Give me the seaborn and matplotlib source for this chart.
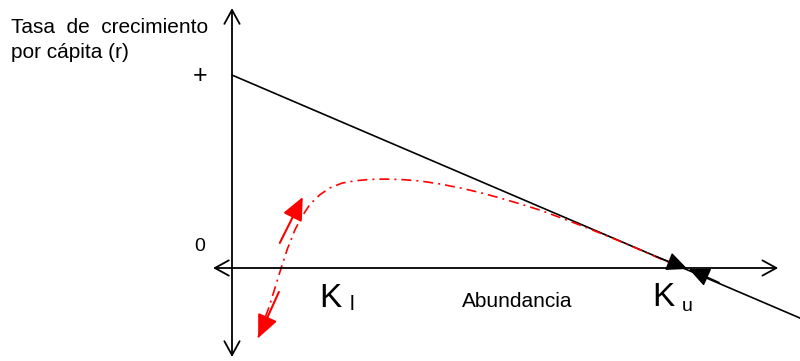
import numpy as np
import pandas as pd
import matplotlib
matplotlib.use("Agg")
import matplotlib.pyplot as plt
import seaborn as sns

# eje x: abundancia (K_u = 100), eje y: tasa r (+ = 1)
K_l = 10.9
K_u = 100
r_max = 1.0

# curva con efecto Allee (roja, punto-raya)
curva_x = [5.8, 7.0, 8.4, 9.7, 10.9, 12.3, 14.0, 15.6, 17.3, 19.5, 21.7, 24.4, 27.3,
           30.5, 33.9, 37.8, 41.7, 46.0, 50.6, 55.0, 59.4, 63.8, 68.3, 72.7, 77.2,
           81.6, 86.0, 90.5, 94.9, 100.0]
curva_r = [-0.36, -0.28, -0.19, -0.09, 0.0, 0.10, 0.20, 0.27, 0.33, 0.38, 0.415, 0.44,
           0.452, 0.459, 0.461, 0.458, 0.451, 0.436, 0.415, 0.391, 0.363, 0.333, 0.30,
           0.262, 0.222, 0.181, 0.139, 0.094, 0.049, 0.0]

# recta logistica
recta_x = [0, 126]
recta_r = [r_max * (1 - x / K_u) for x in recta_x]

sns.set_style("white")
plt.rcParams['font.family'] = ['Liberation Sans', 'DejaVu Sans']
plt.rcParams['text.color'] = 'black'

fig = plt.figure(figsize=(8, 3.61), dpi=100)
ax = fig.add_axes([0, 0, 1, 1])
ax.set_xlim(-51.44, 125.94)
ax.set_ylim(-0.482, 1.389)
ax.axis('off')

# ejes con flechas en ambos extremos
ax.annotate('', xy=(121.1, 0), xytext=(-4.2, 0),
            arrowprops=dict(arrowstyle='<->,head_length=1.0,head_width=0.55', color='black', lw=1.3,
                            shrinkA=0, shrinkB=0))
ax.annotate('', xy=(0, 1.347), xytext=(0, -0.461),
            arrowprops=dict(arrowstyle='<->,head_length=1.0,head_width=0.55', color='black', lw=1.3,
                            shrinkA=0, shrinkB=0))

df_recta = pd.DataFrame({'x': recta_x, 'r': recta_r})
sns.lineplot(data=df_recta, x='x', y='r', color='black', lw=1.2, ax=ax, sort=False)

df_curva = pd.DataFrame({'x': curva_x, 'r': curva_r})
sns.lineplot(data=df_curva, x='x', y='r', color='red', lw=1.2, ax=ax, sort=False,
             linestyle=(0, (6, 3, 1.2, 3)))

# flechas rojas cerca de K_l
flecha_roja = dict(arrowstyle='-|>,head_length=1.0,head_width=0.45', color='red', lw=1.5,
                   mutation_scale=14, shrinkA=0, shrinkB=0)
ax.annotate('', xy=(15.7, 0.368), xytext=(10.6, 0.13), arrowprops=flecha_roja)
ax.annotate('', xy=(5.8, -0.363), xytext=(10.4, -0.124), arrowprops=flecha_roja)

# puntas negras en K_u
punta = dict(arrowstyle='-|>,head_length=1.0,head_width=0.45', color='black', lw=1,
             mutation_scale=13, shrinkA=0, shrinkB=0)
ax.annotate('', xy=(K_u + 1.0, -0.005), xytext=(K_u - 6, 0.06), arrowprops=punta)
ax.annotate('', xy=(K_u + 1.3, -0.005), xytext=(K_u + 8, -0.075), arrowprops=punta)

# textos
ax.text(-48.9, 1.218, 'Tasa  de  crecimiento', fontsize=15, va='baseline', ha='left')
ax.text(-48.9, 1.088, 'por cápita (r)', fontsize=15, va='baseline', ha='left')
ax.text(-7.1, 0.995, '+', fontsize=18, ha='center', va='center')
ax.text(-7.2, 0.109, '0', fontsize=14, ha='center', va='center')
ax.text(19.3, -0.202, 'K', fontsize=24, ha='left', va='baseline')
ax.text(26.0, -0.218, 'l', fontsize=15, ha='left', va='baseline')
ax.text(51.0, -0.202, 'Abundancia', fontsize=15, ha='left', va='baseline')
ax.text(93.1, -0.197, 'K', fontsize=24, ha='left', va='baseline')
ax.text(99.8, -0.223, 'u', fontsize=14, ha='left', va='baseline')

fig.savefig('out.png', dpi=100)
